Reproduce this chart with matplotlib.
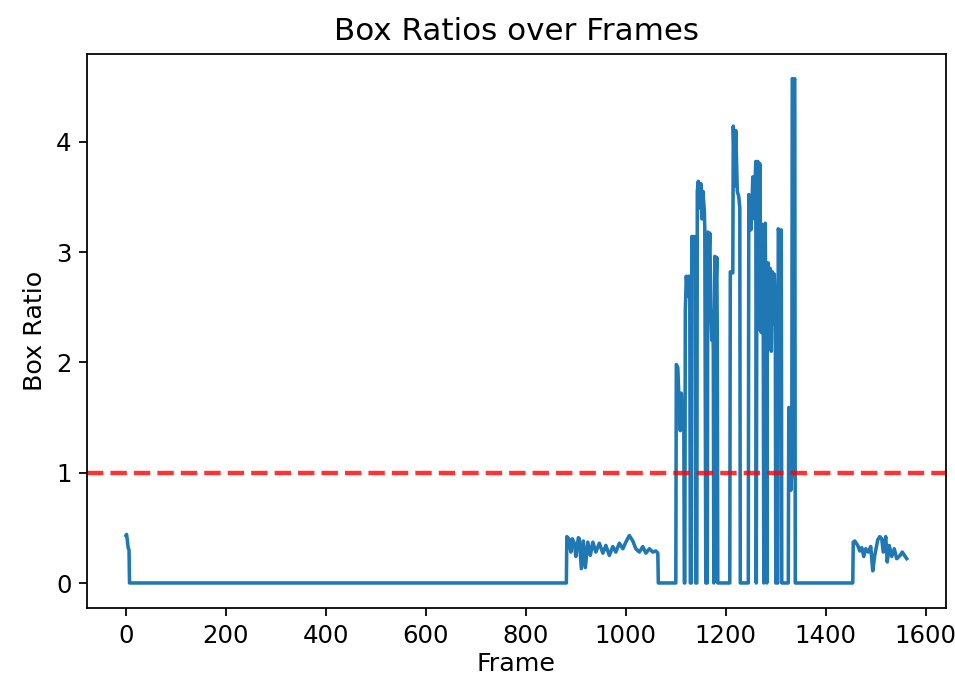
import matplotlib
matplotlib.use('Agg')
import matplotlib.pyplot as plt

THRESHOLD = 1.0

# key points (frame, box ratio); zero runs are given by their ends
start_frames = [0, 1, 2, 3, 4, 5, 6, 7, 881]
start_ratios = [0.43, 0.44, 0.41, 0.37, 0.33, 0.31, 0.30, 0.0, 0.0]

mid_frames = [882, 886, 890, 893, 897, 900, 905, 907, 911, 915, 919, 924, 929, 934,
              940, 947, 954, 960, 967, 974, 980, 987, 994, 1000, 1007, 1014, 1020,
              1027, 1034, 1040, 1047, 1054, 1060, 1064, 1065, 1100]
mid_ratios = [0.42, 0.40, 0.28, 0.40, 0.36, 0.24, 0.41, 0.40, 0.13, 0.38, 0.14, 0.37,
              0.25, 0.37, 0.28, 0.36, 0.27, 0.34, 0.25, 0.33, 0.28, 0.36, 0.31, 0.37,
              0.43, 0.38, 0.31, 0.28, 0.33, 0.27, 0.31, 0.28, 0.29, 0.27, 0.0, 0.0]

spike_frames = [1101, 1104, 1106, 1109, 1111, 1114, 1116, 1117, 1118, 1119, 1121, 1124,
                1126, 1128, 1129, 1131, 1132, 1135, 1137, 1139, 1140, 1142, 1143, 1145,
                1148, 1150, 1152, 1154, 1157, 1158, 1160, 1163, 1164, 1166, 1168, 1170,
                1172, 1174, 1175, 1176, 1177, 1178, 1180, 1182, 1183, 1184, 1208, 1209,
                1214, 1215, 1218, 1220, 1223, 1226, 1228, 1229, 1245, 1246, 1250, 1253,
                1254, 1257, 1259, 1260, 1261, 1262, 1264, 1266, 1268, 1269, 1271, 1273,
                1275, 1276, 1277, 1279, 1280, 1281, 1282, 1283, 1285, 1287, 1289, 1291,
                1293, 1295, 1297, 1299, 1300, 1304, 1305, 1308, 1311, 1312, 1325, 1326,
                1328, 1330, 1332, 1333, 1336, 1338, 1339, 1454]
spike_ratios = [1.98, 1.95, 1.70, 1.38, 1.72, 1.40, 1.45, 0.0, 0.0, 2.47, 2.78, 2.60,
                2.78, 2.55, 0.0, 0.0, 3.14, 2.90, 3.14, 3.00, 0.0, 0.0, 3.55, 3.64,
                3.40, 3.62, 3.30, 3.55, 3.38, 3.20, 0.0, 0.0, 3.18, 2.90, 3.17, 2.50,
                2.20, 2.45, 2.10, 0.0, 2.15, 2.96, 2.60, 2.95, 2.20, 0.0, 0.0, 2.82,
                2.81, 4.14, 3.60, 4.10, 3.55, 3.50, 3.40, 0.0, 0.0, 3.52, 3.20, 3.52,
                3.68, 3.30, 3.68, 3.82, 0.0, 2.48, 3.82, 2.30, 3.80, 3.26, 2.27, 3.25,
                2.20, 0.0, 2.60, 3.26, 2.18, 2.90, 0.0, 2.10, 2.90, 2.30, 2.85, 2.10,
                2.82, 2.35, 2.80, 2.50, 0.0, 0.0, 3.21, 3.15, 3.20, 0.0, 0.0, 1.59,
                1.55, 0.84, 1.00, 4.57, 4.55, 4.57, 0.0, 0.0]

end_frames = [1455, 1458, 1464, 1468, 1472, 1476, 1480, 1485, 1490, 1494, 1498, 1504,
              1508, 1512, 1515, 1520, 1523, 1527, 1532, 1537, 1542, 1549, 1553, 1559, 1562]
end_ratios = [0.37, 0.38, 0.34, 0.29, 0.32, 0.24, 0.31, 0.28, 0.33, 0.11, 0.25, 0.39,
              0.42, 0.40, 0.28, 0.42, 0.19, 0.34, 0.24, 0.31, 0.22, 0.25, 0.28, 0.24, 0.22]

frames = start_frames + mid_frames + spike_frames + end_frames
ratios = start_ratios + mid_ratios + spike_ratios + end_ratios

fig = plt.figure(figsize=(6.0, 4.32), dpi=159.3)
ax = fig.add_axes([0.091, 0.116, 0.8985, 0.806])

ax.plot(frames, ratios, color='tab:blue', linewidth=1.6)
ax.axhline(THRESHOLD, color='r', linestyle='--', linewidth=2, alpha=0.8)

ax.set_title('Box Ratios over Frames', fontsize=14)
ax.set_xlabel('Frame', fontsize=11.5, labelpad=2)
ax.set_ylabel('Box Ratio', fontsize=11.5)
ax.tick_params(labelsize=11)

fig.savefig('out.png', dpi=159.3)
